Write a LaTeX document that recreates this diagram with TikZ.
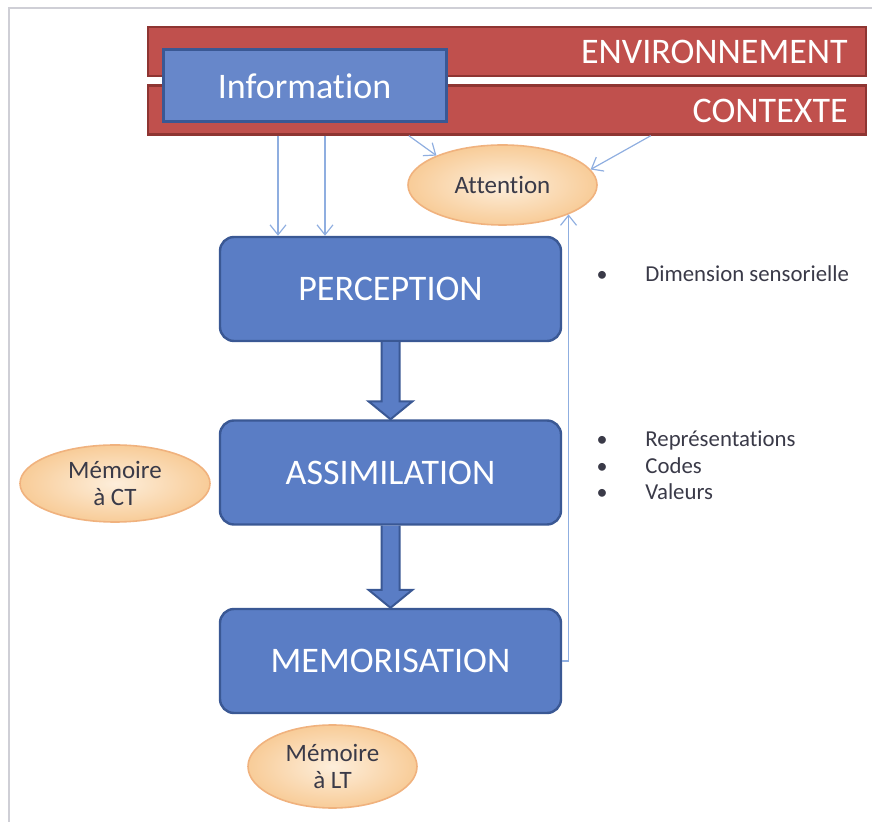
\documentclass[tikz,border=0pt]{standalone}
\usepackage{fontspec}
\setmainfont{Carlito}[Ligatures=NoCommon]
\usetikzlibrary{arrows.meta,shapes.geometric,calc}
\definecolor{boxblue}{HTML}{5A7DC5}
\definecolor{boxedge}{HTML}{3A5894}
\definecolor{barred}{HTML}{C0504D}
\definecolor{baredge}{HTML}{8E3532}
\definecolor{ellfill}{HTML}{F8CC98}
\definecolor{ellin}{HTML}{FDEEDB}
\definecolor{elledge}{HTML}{F0B27E}
\definecolor{linkblue}{HTML}{8FAEE0}
\definecolor{txtgray}{HTML}{3A3A48}
\definecolor{framegray}{HTML}{CFCFD6}
\begin{document}
\begin{tikzpicture}[x=0.5pt,y=-0.5pt,
 bar/.style={draw=baredge, fill=barred, line width=1.2pt, minimum width=359pt, minimum height=24.5pt, inner sep=0pt},
 bartext/.style={text=white, font=\fontsize{18}{20}\selectfont, anchor=east, inner sep=0pt},
 stage/.style={draw=boxedge, fill=boxblue, line width=1.2pt, rounded corners=7pt, minimum width=170.5pt, minimum height=52pt, text=white, font=\fontsize{18}{20}\selectfont, inner sep=0pt},
 infobox/.style={draw=boxedge, fill=boxblue!92!white, line width=1.5pt, minimum width=141.5pt, minimum height=36pt, text=white, font=\fontsize{18}{20}\selectfont, inner sep=0pt},
 memo/.style={ellipse, draw=elledge, line width=0.8pt, inner color=ellin, outer color=ellfill, text=txtgray, font=\fontsize{12.5}{13.5}\selectfont, align=center, inner sep=0pt},
 link/.style={draw=linkblue, line width=0.6pt, -{Straight Barb[length=5pt,width=8pt]}},
 blockarrow/.style={draw=boxedge, fill=boxblue, line width=1pt, line join=miter},
 bullettext/.style={anchor=base west, text=txtgray, font=\fontsize{11.4}{13}\selectfont, inner sep=0pt},
 bulletdot/.style={anchor=base, text=txtgray, font=\fontsize{11}{13}\selectfont, inner sep=0pt}
]
\useasboundingbox (0,0) rectangle (872,822);
\draw[framegray, line width=0.6pt] (9,822) -- (9,8) -- (872,8);

\node[bar] (env) at (507,51.5) {};
\node[bar] (ctx) at (507,110) {};
\node[bartext] (envt) at (848,52) {ENVIRONNEMENT};
\node[bartext] (ctxt) at (848,111) {CONTEXTE};
\node[infobox] (info) at (304.5,86) {Information};

\node[memo, minimum width=94.5pt, minimum height=40pt, font=\fontsize{12.5}{13.5}\selectfont] (att) at (502.5,185) {Attention};
\node[stage] (perc) at (390.5,289) {PERCEPTION};
\node[stage] (assim) at (390.5,472.5) {ASSIMILATION};
\node[stage] (mem) at (390.5,661) {MEMORISATION};
\node[memo, minimum width=95pt, minimum height=38.5pt] (mct) at (115,483.5) {Mémoire\\à CT};
\node[memo, minimum width=84.5pt, minimum height=41.5pt] (mlt) at (332.5,766.5) {Mémoire\\à LT};

\draw[blockarrow] ($(perc.south)+(-9,0)$) -- ($(assim.north)+(-9,-18)$) -- ($(assim.north)+(-22,-18)$) -- (assim.north) -- ($(assim.north)+(22,-18)$) -- ($(assim.north)+(9,-18)$) -- ($(perc.south)+(9,0)$);
\draw[blockarrow] ($(assim.south)+(-9,0)$) -- ($(mem.north)+(-9,-18)$) -- ($(mem.north)+(-22,-18)$) -- (mem.north) -- ($(mem.north)+(22,-18)$) -- ($(mem.north)+(9,-18)$) -- ($(assim.south)+(9,0)$);

\draw[link] ($(info.south |- ctx.south)+(-26.5,0)$) -- ($(info.south |- perc.north)+(-26.5,0)$);
\draw[link] ($(info.south |- ctx.south)+(20.5,0)$) -- ($(info.south |- perc.north)+(20.5,0)$);
\draw[link] ($(ctx.south west)+(262,0)$) -- (att.156);
\draw[link] ($(ctx.south west)+(504,0)$) -- (att.10);
\draw[link] (mem.east) -| (att.-24);

\node[bulletdot] (b1) at (602,282) {•};
\node[bullettext] (t1) at (645,282) {Dimension sensorielle};
\node[bulletdot] (b2) at (602,447) {•};
\node[bullettext] (t2) at (645,447) {Représentations};
\node[bulletdot] (b3) at (602,474) {•};
\node[bullettext] (t3) at (645,474) {Codes};
\node[bulletdot] (b4) at (602,500) {•};
\node[bullettext] (t4) at (645,500) {Valeurs};
\end{tikzpicture}
\end{document}
